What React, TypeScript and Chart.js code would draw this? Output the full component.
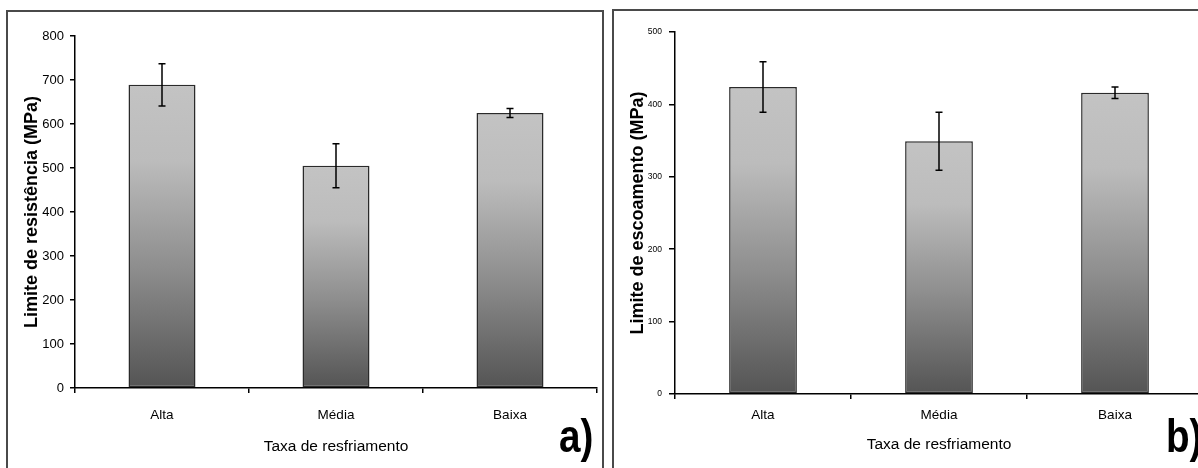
import React, { useEffect, useRef } from 'react';
import { Chart, registerables } from 'chart.js';

Chart.register(...registerables);

const categories = ['Alta', 'Média', 'Baixa'];
const tensileValues = [689, 505, 625];
const tensileErrors = [48, 50, 10];
const yieldValues = [424, 349, 416];
const yieldErrors = [35, 40, 8];

const REGULAR = "'Liberation Sans', Arial, sans-serif";

const errorBarPlugin = {
  id: 'errorBars',
  afterDatasetsDraw(chart: any, _args: any, opts: any) {
    const errs: number[] = opts.errors || [];
    const cap: number = opts.cap || 3.5;
    const meta = chart.getDatasetMeta(0);
    const ys = chart.scales.y;
    const vals = chart.data.datasets[0].data as number[];
    const ctx = chart.ctx;
    ctx.save();
    ctx.strokeStyle = '#000';
    ctx.lineWidth = 1.5;
    meta.data.forEach((el: any, i: number) => {
      const x = el.x;
      const yTop = ys.getPixelForValue(vals[i] + errs[i]);
      const yBot = ys.getPixelForValue(vals[i] - errs[i]);
      ctx.beginPath();
      ctx.moveTo(x, yTop);
      ctx.lineTo(x, yBot);
      ctx.moveTo(x - cap, yTop);
      ctx.lineTo(x + cap, yTop);
      ctx.moveTo(x - cap, yBot);
      ctx.lineTo(x + cap, yBot);
      ctx.stroke();
    });
    ctx.restore();
  },
};

const gradientFill = (ctx: any) => {
  const chart = ctx.chart;
  if (!chart.chartArea || ctx.type !== 'data' || !chart.scales.y) return '#999999';
  const ys = chart.scales.y;
  const top = ys.getPixelForValue(ctx.raw as number);
  const base = ys.getPixelForValue(0);
  if (!isFinite(top) || !isFinite(base) || top === base) return '#999999';
  const g = chart.ctx.createLinearGradient(0, top, 0, base);
  g.addColorStop(0, '#c3c3c3');
  g.addColorStop(0.25, '#bcbcbc');
  g.addColorStop(0.6, '#8e8e8e');
  g.addColorStop(1, '#545454');
  return g;
};

type PanelProps = {
  left: number;
  width: number;
  values: number[];
  errors: number[];
  yMax: number;
  yStep: number;
  yTitle: string;
  yTitleSize: number;
  yTitlePad: number;
  yTickSize: number;
  yTickLen: number;
  yTickPad: number;
  yWidth: number;
  xHeight: number;
  xTickPad: number;
  xTitlePad: number;
  padTop: number;
  padRight: number;
};

function PanelChart(p: PanelProps) {
  const ref = useRef<HTMLCanvasElement | null>(null);
  useEffect(() => {
    if (!ref.current) return;
    const chart = new Chart(ref.current, {
      type: 'bar',
      data: {
        labels: categories,
        datasets: [
          {
            data: p.values,
            backgroundColor: gradientFill as any,
            borderColor: '#2a2a2a',
            borderWidth: 1.5,
            borderSkipped: false,
            barPercentage: 0.385,
            categoryPercentage: 1,
          },
        ],
      },
      options: {
        animation: false,
        responsive: false,
        maintainAspectRatio: false,
        devicePixelRatio: 1,
        layout: { padding: { top: p.padTop, right: p.padRight, bottom: 0, left: 0 } },
        plugins: {
          legend: { display: false },
          tooltip: { enabled: false },
          errorBars: { errors: p.errors, cap: 3.5 },
        } as any,
        scales: {
          x: {
            grid: {
              display: true,
              drawOnChartArea: false,
              drawTicks: true,
              tickLength: 5,
              color: '#000',
              lineWidth: 1.5,
              offset: true,
            },
            border: { display: true, color: '#000', width: 1.5 },
            ticks: {
              font: { family: REGULAR, size: 13.5 },
              color: '#000',
              padding: p.xTickPad,
              maxRotation: 0,
            },
            title: {
              display: true,
              text: 'Taxa de resfriamento',
              font: { family: REGULAR, size: 15.5 },
              color: '#000',
              padding: { top: 0, bottom: p.xTitlePad },
            },
            afterFit: (s: any) => {
              s.height = p.xHeight;
            },
          },
          y: {
            min: 0,
            max: p.yMax,
            grid: {
              display: true,
              drawOnChartArea: false,
              drawTicks: true,
              tickLength: p.yTickLen,
              color: '#000',
              lineWidth: 1.5,
            },
            border: { display: true, color: '#000', width: 1.5 },
            ticks: {
              stepSize: p.yStep,
              font: { family: REGULAR, size: p.yTickSize },
              color: '#000',
              padding: p.yTickPad,
            },
            title: {
              display: true,
              text: p.yTitle,
              font: { family: REGULAR, size: p.yTitleSize, weight: 'bold' },
              color: '#000',
              padding: { top: p.yTitlePad, bottom: 0 },
            },
            afterFit: (s: any) => {
              s.width = p.yWidth;
            },
          },
        },
      },
      plugins: [errorBarPlugin as any],
    });
    return () => chart.destroy();
  }, []);
  return (
    <canvas
      ref={ref}
      width={p.width}
      height={468}
      style={{ position: 'absolute', left: p.left, top: 0, width: p.width, height: 468, zIndex: 2 }}
    />
  );
}

const labelStyle: React.CSSProperties = {
  position: 'absolute',
  fontFamily: REGULAR,
  fontWeight: 'bold',
  fontSize: 46,
  lineHeight: '46px',
  color: '#000',
  zIndex: 3,
  whiteSpace: 'nowrap',
  transform: 'scaleX(0.84)',
  transformOrigin: 'left top',
};

export default function App() {
  return (
    <div
      style={{
        position: 'fixed',
        left: 0,
        top: 0,
        width: 1198,
        height: 468,
        overflow: 'hidden',
        background: '#fff',
      }}
    >
      <div
        style={{
          position: 'absolute',
          left: 6,
          top: 10,
          width: 598,
          height: 520,
          border: '2px solid #4a4a4a',
          boxSizing: 'border-box',
          zIndex: 1,
        }}
      />
      <div
        style={{
          position: 'absolute',
          left: 612,
          top: 9,
          width: 700,
          height: 520,
          border: '2px solid #4a4a4a',
          boxSizing: 'border-box',
          zIndex: 1,
        }}
      />
      <PanelChart
        left={0}
        width={605}
        values={tensileValues}
        errors={tensileErrors}
        yMax={800}
        yStep={100}
        yTitle="Limite de resistência (MPa)"
        yTitleSize={18}
        yTitlePad={21}
        yTickSize={13}
        yTickLen={5}
        yTickPad={6}
        yWidth={75}
        xHeight={80}
        xTickPad={14}
        xTitlePad={12}
        padTop={36}
        padRight={8}
      />
      <PanelChart
        left={605}
        width={600}
        values={yieldValues}
        errors={yieldErrors}
        yMax={500}
        yStep={100}
        yTitle="Limite de escoamento (MPa)"
        yTitleSize={18}
        yTitlePad={22}
        yTickSize={8.5}
        yTickLen={6}
        yTickPad={7}
        yWidth={70}
        xHeight={74}
        xTickPad={8}
        xTitlePad={14}
        padTop={32}
        padRight={2}
      />
      <div style={{ ...labelStyle, left: 559, top: 413 }}>a)</div>
      <div style={{ ...labelStyle, left: 1166, top: 413 }}>b)</div>
    </div>
  );
}
